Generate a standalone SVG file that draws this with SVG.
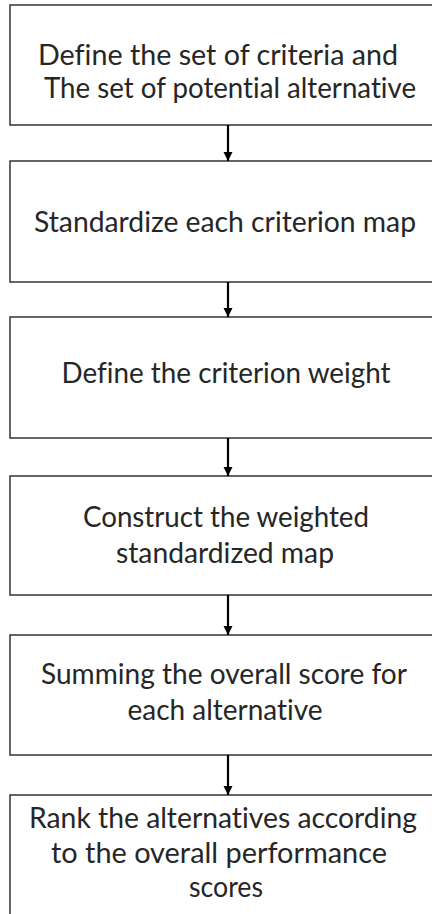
<svg xmlns="http://www.w3.org/2000/svg" width="432" height="914" viewBox="0 0 432 914">
<style>
.box{fill:#fff;stroke:#333;stroke-width:1.5}
.t{font-family:Lato,"Open Sans","Noto Sans",sans-serif;font-size:29px;fill:#262626;text-anchor:middle;font-variant-ligatures:none}
.c{stroke:#000;stroke-width:2.2;fill:none;marker-end:url(#ah)}
</style>
<defs>
<marker id="ah" viewBox="0 0 10 10" refX="10" refY="5" markerWidth="4.2" markerHeight="4.2" orient="auto" markerUnits="strokeWidth">
<path d="M0,0 L10,5 L0,10 z" fill="#000"/>
</marker>
</defs>
<rect width="432" height="914" fill="#fff"/>
<g id="n1"><rect class="box" x="10" y="5" width="426" height="120"/>
<text class="t" x="218" y="65" textLength="360" lengthAdjust="spacingAndGlyphs">Define the set of criteria and</text>
<text class="t" x="230" y="98" textLength="372" lengthAdjust="spacingAndGlyphs">The set of potential alternative</text></g>
<g id="n2"><rect class="box" x="10" y="161" width="426" height="121"/>
<text class="t" x="225" y="232" textLength="382" lengthAdjust="spacingAndGlyphs">Standardize each criterion map</text></g>
<g id="n3"><rect class="box" x="10" y="317" width="426" height="121"/>
<text class="t" x="226" y="383" textLength="329" lengthAdjust="spacingAndGlyphs">Define the criterion weight</text></g>
<g id="n4"><rect class="box" x="10" y="476" width="426" height="119"/>
<text class="t" x="226" y="527" textLength="286" lengthAdjust="spacingAndGlyphs">Construct the weighted</text>
<text class="t" x="225" y="563" textLength="218" lengthAdjust="spacingAndGlyphs">standardized map</text></g>
<g id="n5"><rect class="box" x="10" y="635" width="426" height="120"/>
<text class="t" x="224" y="684" textLength="366" lengthAdjust="spacingAndGlyphs">Summing the overall score for</text>
<text class="t" x="225" y="720" textLength="195" lengthAdjust="spacingAndGlyphs">each alternative</text></g>
<g id="n6"><rect class="box" x="10" y="795" width="426" height="130"/>
<text class="t" x="223" y="828" textLength="388" lengthAdjust="spacingAndGlyphs">Rank the alternatives according</text>
<text class="t" x="219" y="863" textLength="336" lengthAdjust="spacingAndGlyphs">to the overall performance</text>
<text class="t" x="226" y="897" textLength="74" lengthAdjust="spacingAndGlyphs">scores</text></g>
<g id="connectors">
<line class="c" x1="228" y1="125" x2="228" y2="161"/>
<line class="c" x1="228" y1="282" x2="228" y2="317"/>
<line class="c" x1="228" y1="438" x2="228" y2="476"/>
<line class="c" x1="228" y1="595" x2="228" y2="635"/>
<line class="c" x1="228" y1="755" x2="228" y2="795"/>
</g>
</svg>
